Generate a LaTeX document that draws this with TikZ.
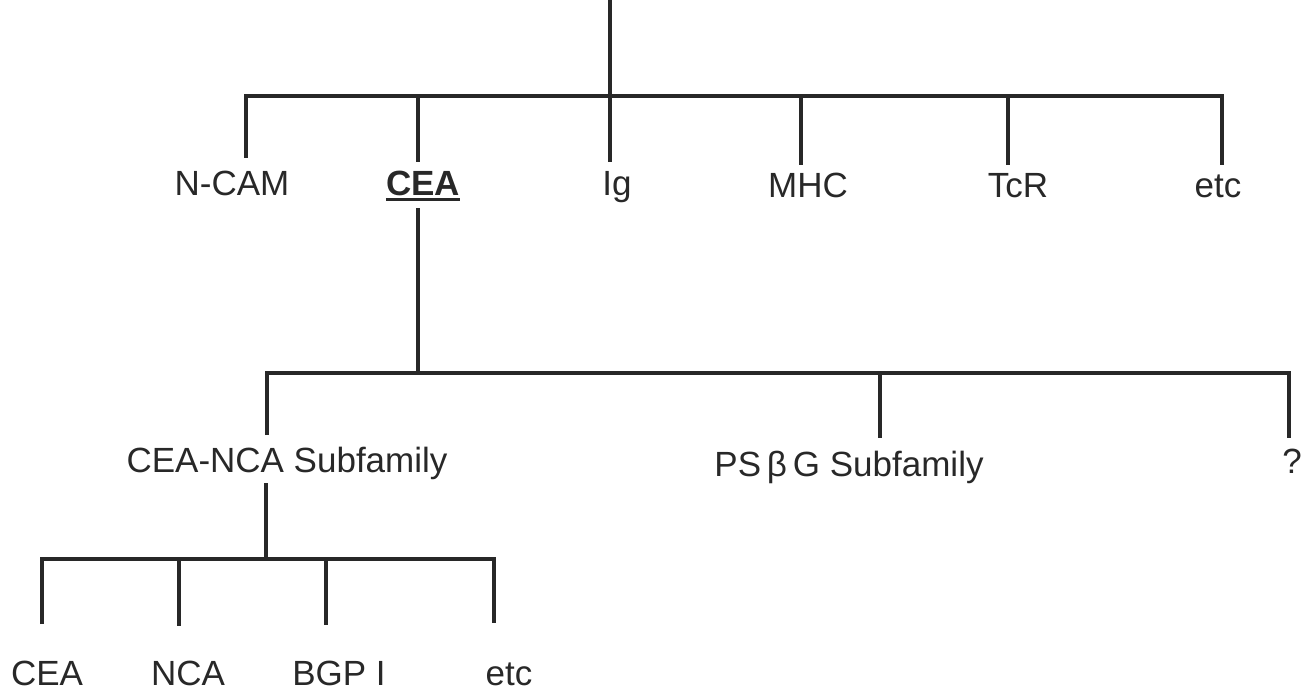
\documentclass[tikz,border=0pt]{standalone}
\usepackage{fontspec}
\setmainfont{Liberation Sans}
\definecolor{ink}{RGB}{40,40,40}
\begin{document}
\begin{tikzpicture}[x=1pt,y=-1pt,
  lbl/.style={inner sep=0pt, anchor=base, text=ink, font=\fontsize{35}{42}\selectfont},
  link/.style={draw=ink, line width=3.2pt, line cap=butt, line join=miter}]
\useasboundingbox (0,0) rectangle (1305,695);
% ---------- labels ----------
\node[lbl] (ncam) at (232,195) {N-CAM};
\node[lbl] (cea)  at (423,195) {\bfseries CEA};
\node[lbl] (ig)   at (617,195) {Ig};
\node[lbl] (mhc)  at (808,197) {MHC};
\node[lbl] (tcr)  at (1018,197) {TcR};
\node[lbl] (etc1) at (1218,197) {etc};
\node[lbl] (ceanca) at (287,472) {CEA-NCA Subfamily};
\node[lbl] (psbg)   at (849,476) {PS\,β\,G Subfamily};
\node[lbl] (unk)    at (1292,473) {?};
\node[lbl] (ceab) at (47,685) {CEA};
\node[lbl] (nca)  at (188,685) {NCA};
\node[lbl] (bgp)  at (339,685) {BGP I};
\node[lbl] (etc2) at (509,685) {etc};
% underline of CEA
\draw[draw=ink, line width=3pt] ([yshift=-4pt]cea.base west) -- ([yshift=-4pt]cea.base east);
% ---------- coordinates ----------
\coordinate (top) at (610,0);
\coordinate (j1) at (610,96);
\coordinate (dncam) at (246,158);
\coordinate (dcea) at (418,162);
\coordinate (dig) at (610,162);
\coordinate (dmhc) at (801,165);
\coordinate (dtcr) at (1008,165);
\coordinate (detc) at (1222,165);
\coordinate (ceaout) at (418,208);
\coordinate (j2) at (418,373);
\coordinate (dceanca) at (267,435);
\coordinate (dpsbg) at (880,438);
\coordinate (dunk) at (1289,438);
\coordinate (ceancaout) at (266,483);
\coordinate (j3) at (266,559);
\coordinate (dceab) at (42,624);
\coordinate (dnca) at (179,626);
\coordinate (dbgp) at (326,625);
\coordinate (detc2) at (494,623);
% ---------- level 1 ----------
\draw[link] (top) -- (j1);
\draw[link] (dncam) -- (dncam |- j1) -- (detc |- j1) -- (detc);
\draw[link] (dcea |- j1) -- (dcea);
\draw[link] (dig |- j1) -- (dig);
\draw[link] (dmhc |- j1) -- (dmhc);
\draw[link] (dtcr |- j1) -- (dtcr);
% ---------- level 2 ----------
\draw[link] (ceaout) -- (j2);
\draw[link] (dceanca) -- (dceanca |- j2) -- (dunk |- j2) -- (dunk);
\draw[link] (dpsbg |- j2) -- (dpsbg);
% ---------- level 3 ----------
\draw[link] (ceancaout) -- (j3);
\draw[link] (dceab) -- (dceab |- j3) -- (detc2 |- j3) -- (detc2);
\draw[link] (dnca |- j3) -- (dnca);
\draw[link] (dbgp |- j3) -- (dbgp);
\end{tikzpicture}
\end{document}
